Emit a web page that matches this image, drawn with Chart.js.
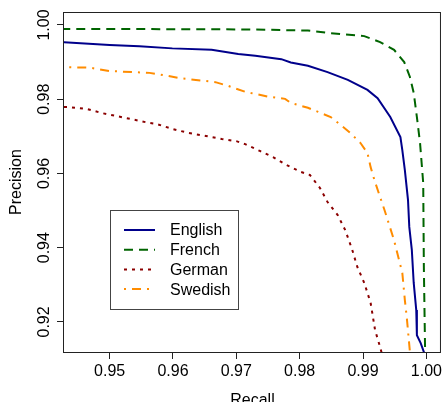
<!DOCTYPE html>
<html>
<head>
<meta charset="utf-8">
<script src="https://cdn.jsdelivr.net/npm/chart.js@4.4.0/dist/chart.umd.min.js"></script>
<style>
  html, body { margin: 0; padding: 0; background: #fff; overflow: hidden; }
  #wrap { width: 445px; height: 402px; position: relative; }
</style>
</head>
<body>
<div id="wrap"><canvas id="pr-chart"></canvas></div>
<script>
// precision / recall curves
const englishRecall    = [0.9400, 0.9500, 0.9547, 0.9599, 0.9661, 0.9703, 0.9730, 0.9771, 0.9786, 0.9813, 0.9844, 0.9876, 0.9907, 0.9923, 0.9943, 0.9959, 0.9962, 0.9966, 0.9971, 0.9973, 0.9977, 0.9980, 0.9984, 0.9985, 0.9991, 0.9996, 0.9997];
const englishPrecision = [0.9956, 0.9946, 0.9943, 0.9937, 0.9933, 0.9922, 0.9917, 0.9908, 0.9899, 0.9890, 0.9873, 0.9852, 0.9825, 0.9803, 0.9752, 0.9698, 0.9663, 0.9609, 0.9528, 0.9456, 0.9394, 0.9305, 0.9232, 0.9164, 0.9143, 0.9119, 0.9090];

const frenchRecall    = [0.9400, 0.9547, 0.9719, 0.9813, 0.9849, 0.9902, 0.9927, 0.9949, 0.9965, 0.9974, 0.9980, 0.9985, 0.9990, 0.9995, 0.9996, 0.9997, 0.9998, 0.9999];
const frenchPrecision = [0.9989, 0.9989, 0.9988, 0.9985, 0.9978, 0.9970, 0.9954, 0.9933, 0.9900, 0.9860, 0.9817, 0.9752, 0.9682, 0.9574, 0.9348, 0.9232, 0.9119, 0.9090];

const germanRecall    = [0.9428, 0.9434, 0.9464, 0.9487, 0.9527, 0.9563, 0.9575, 0.9599, 0.9625, 0.9652, 0.9677, 0.9700, 0.9714, 0.9738, 0.9758, 0.9779, 0.9802, 0.9816, 0.9832, 0.9844, 0.9860, 0.9872, 0.9883, 0.9891, 0.9902, 0.9912, 0.9919, 0.9927, 0.9929, 0.9930];
const germanPrecision = [0.9779, 0.9779, 0.9774, 0.9763, 0.9749, 0.9736, 0.9733, 0.9720, 0.9709, 0.9701, 0.9693, 0.9687, 0.9679, 0.9660, 0.9644, 0.9623, 0.9604, 0.9596, 0.9561, 0.9523, 0.9488, 0.9447, 0.9394, 0.9348, 0.9305, 0.9251, 0.9178, 0.9132, 0.9119, 0.9090];

const swedishRecall    = [0.9400, 0.9469, 0.9500, 0.9563, 0.9578, 0.9614, 0.9652, 0.9667, 0.9687, 0.9714, 0.9750, 0.9777, 0.9786, 0.9813, 0.9829, 0.9849, 0.9871, 0.9880, 0.9896, 0.9907, 0.9912, 0.9918, 0.9927, 0.9934, 0.9949, 0.9962, 0.9966, 0.9969, 0.9974, 0.9976];
const swedishPrecision = [0.9887, 0.9885, 0.9876, 0.9871, 0.9867, 0.9856, 0.9849, 0.9846, 0.9836, 0.9820, 0.9807, 0.9801, 0.9790, 0.9777, 0.9766, 0.9752, 0.9722, 0.9709, 0.9682, 0.9655, 0.9617, 0.9582, 0.9536, 0.9501, 0.9420, 0.9332, 0.9259, 0.9213, 0.9119, 0.9090];

const languages = ["English", "French", "German", "Swedish"];
const xTicks = [0.95, 0.96, 0.97, 0.98, 0.99, 1.00];
const yTicks = [0.92, 0.94, 0.96, 0.98, 1.00];

//line look for each language
function getStyle(lang){
    if(lang === "English"){
        return { color: '#00008B', dash: [] }
    }
    if(lang === "French"){
        return { color: '#006400', dash: [9, 6] }
    }
    if(lang === "German"){
        return { color: '#8B0000', dash: [3, 5] }
    }
    if(lang === "Swedish"){
        return { color: '#FF8C00', dash: [2, 6, 9, 6] }
    }
}

function zip(xs, ys){
    return xs.map((x, i) => ({ x: x, y: ys[i] }))
}

const series = {
    English: zip(englishRecall, englishPrecision),
    French: zip(frenchRecall, frenchPrecision),
    German: zip(germanRecall, germanPrecision),
    Swedish: zip(swedishRecall, swedishPrecision)
};

const FONT = "'Liberation Sans', Arial, Helvetica, sans-serif";

//frame around the plot plus the legend box inside it
const framePlugin = {
    id: 'frame',
    afterDraw(chart){
        const ctx = chart.ctx;
        const a = chart.chartArea;
        ctx.save();
        ctx.strokeStyle = '#222';
        ctx.lineWidth = 1;
        ctx.strokeRect(a.left - 0.5, a.top + 0.5, a.right - a.left, a.bottom - a.top);

        // legend
        const bx = 110.5, by = 210.5, bw = 128, bh = 99;
        ctx.strokeStyle = '#444';
        ctx.strokeRect(bx, by, bw, bh);
        ctx.font = '16px ' + FONT;
        ctx.textBaseline = 'middle';
        ctx.fillStyle = '#000';
        chart.data.datasets.forEach((ds, i) => {
            const y = 230 + i * 19.7;
            ctx.beginPath();
            ctx.strokeStyle = ds.borderColor;
            ctx.lineWidth = 2;
            ctx.setLineDash(ds.borderDash);
            ctx.moveTo(124, y);
            ctx.lineTo(155, y);
            ctx.stroke();
            ctx.setLineDash([]);
            ctx.fillText(ds.label, 170, y + 1);
        });
        ctx.restore();
    }
};

new Chart(document.querySelector('#pr-chart').getContext('2d'), {
    type: 'scatter',
    data: {
        datasets: languages.map(lang => ({
            label: lang,
            data: series[lang],
            showLine: true,
            borderColor: getStyle(lang).color,
            backgroundColor: getStyle(lang).color,
            borderDash: getStyle(lang).dash,
            borderWidth: 2,
            pointRadius: 0,
            tension: 0,
            clip: 0
        }))
    },
    options: {
        responsive: true,
        maintainAspectRatio: false,
        animation: false,
        events: [],
        layout: { padding: { top: 12, right: 1, left: 0, bottom: 0 } },
        plugins: {
            legend: { display: false },
            tooltip: { enabled: false }
        },
        scales: {
            x: {
                type: 'linear',
                min: 0.9428,
                max: 1.0023,
                afterFit: s => { s.height = 50 },
                afterBuildTicks: s => { s.ticks = xTicks.map(v => ({ value: v })) },
                border: { display: false },
                grid: { drawOnChartArea: false, tickLength: 7, color: '#222', lineWidth: 1 },
                ticks: {
                    color: '#000',
                    padding: 3,
                    maxRotation: 0,
                    font: { size: 16, family: FONT },
                    callback: v => v.toFixed(2)
                },
                title: {
                    display: true,
                    text: 'Recall',
                    color: '#000',
                    font: { size: 16, family: FONT },
                    padding: { top: 0, bottom: -8 }
                }
            },
            y: {
                type: 'linear',
                min: 0.9119,
                max: 1.0035,
                afterFit: s => { s.width = 64 },
                afterBuildTicks: s => { s.ticks = yTicks.map(v => ({ value: v })) },
                border: { display: false },
                grid: { drawOnChartArea: false, tickLength: 7, color: '#222', lineWidth: 1 },
                ticks: {
                    color: '#000',
                    padding: -3,
                    minRotation: 90,
                    maxRotation: 90,
                    crossAlign: 'center',
                    autoSkip: false,
                    font: { size: 16, family: FONT },
                    callback: v => v.toFixed(2)
                },
                title: {
                    display: true,
                    text: 'Precision',
                    color: '#000',
                    font: { size: 16, family: FONT },
                    padding: { top: 7, bottom: 0 }
                }
            }
        }
    },
    plugins: [framePlugin]
});
</script>
</body>
</html>
